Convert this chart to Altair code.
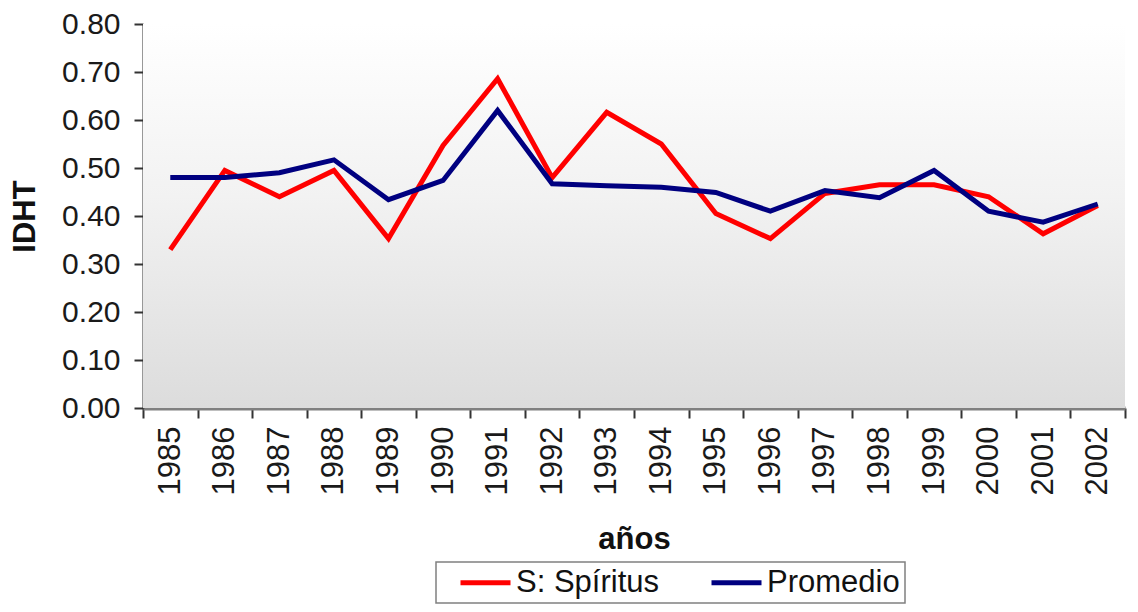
import altair as alt
import pandas as pd

years = [str(y) for y in range(1985, 2003)]
spiritus = [0.33, 0.495, 0.44, 0.495, 0.353, 0.547, 0.686, 0.48, 0.616, 0.55,
            0.405, 0.353, 0.447, 0.465, 0.465, 0.44, 0.363, 0.422]
promedio = [0.48, 0.48, 0.49, 0.517, 0.434, 0.474, 0.62, 0.467, 0.463, 0.46,
            0.449, 0.41, 0.453, 0.438, 0.495, 0.41, 0.387, 0.425]
series_names = ["S: Spíritus", "Promedio"]
series_colors = ["#ff0000", "#000080"]
y_ticks = [0.0, 0.1, 0.2, 0.3, 0.4, 0.5, 0.6, 0.7, 0.8]

df = pd.DataFrame({
    "año": years * 2,
    "IDHT": spiritus + promedio,
    "serie": [series_names[0]] * len(years) + [series_names[1]] * len(years),
})

W, H = 982, 384
FONT = "Liberation Sans"

x_enc = alt.X("año:N", sort=years, bandPosition=0.5,
              scale=alt.Scale(type="band", paddingInner=0, paddingOuter=0),
              axis=alt.Axis(title="años", labelAngle=270, tickBand="extent",
                            labelFontSize=31, labelFont=FONT, labelColor="#1a1a1a",
                            labelPadding=8, titleFontSize=31, titleFont=FONT,
                            titleFontWeight="bold", titleColor="#111", titlePadding=30,
                            domainColor="#808080", domainWidth=4,
                            tickColor="#333", tickWidth=2, tickSize=10, grid=False))
y_scale = alt.Scale(domain=[0, 0.8], nice=False, zero=True)
y_enc = alt.Y("IDHT:Q", scale=y_scale,
              axis=alt.Axis(title="IDHT", values=y_ticks, format=".2f",
                            labelFontSize=30, labelFont=FONT, labelColor="#1a1a1a",
                            labelPadding=14, titleFontSize=31, titleFont=FONT,
                            titleFontWeight="bold", titleColor="#111", titlePadding=20,
                            domainColor="#333", domainWidth=2,
                            tickColor="#333", tickWidth=2, tickSize=9, grid=False))

color_enc = alt.Color("serie:N",
                      scale=alt.Scale(domain=series_names, range=series_colors),
                      legend=alt.Legend(title=None, orient="none", legendX=293, legendY=538,
                                        direction="horizontal", strokeColor="#808080",
                                        padding=5, labelFontSize=31, labelFont=FONT,
                                        labelColor="#111",
                                        symbolType="M-2.5,0H2.5",
                                        symbolSize=400, symbolStrokeWidth=5,
                                        symbolOffset=29, labelOffset=15,
                                        columnPadding=33, labelLimit=0))

bg = alt.Chart(pd.DataFrame({"top": [0.8], "bottom": [0.0]})).mark_rect(
    color=alt.Gradient(gradient="linear",
                       stops=[alt.GradientStop(color="#ffffff", offset=0),
                              alt.GradientStop(color="#f2f2f2", offset=0.45),
                              alt.GradientStop(color="#dcdcdc", offset=1)],
                       x1=0, x2=0, y1=0, y2=1)
).encode(x=alt.value(0), x2=alt.value(W),
         y=alt.Y("top:Q", scale=y_scale), y2="bottom:Q")

red = alt.Chart(df).transform_filter(alt.datum.serie == series_names[0]).mark_line(
    strokeWidth=5).encode(x=x_enc, y=y_enc, color=color_enc)
blue = alt.Chart(df).transform_filter(alt.datum.serie == series_names[1]).mark_line(
    strokeWidth=5).encode(x=x_enc, y=y_enc, color=color_enc)

chart = alt.layer(bg, red, blue).properties(
    width=W, height=H,
    autosize=alt.AutoSizeParams(type="none"),
    padding={"left": 135, "top": 16, "right": 5, "bottom": 196},
    background="white",
).configure_view(stroke=None).configure_legend(strokeWidth=1.5)

chart.save("out.html", embed_options={"renderer": "svg", "actions": False})
